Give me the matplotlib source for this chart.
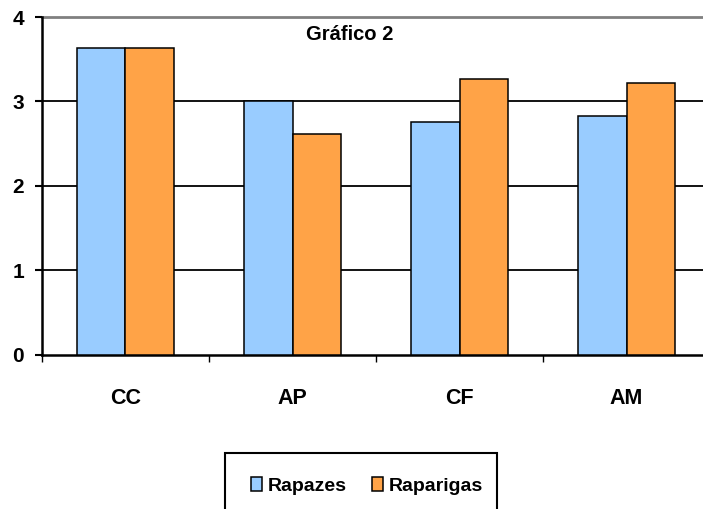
import matplotlib.pyplot as plt
import numpy as np
from matplotlib.patches import Rectangle

categories = ['CC', 'AP', 'CF', 'AM']
rapazes = [3.63, 3.0, 2.76, 2.83]
raparigas = [3.63, 2.62, 3.27, 3.22]
yticks = [0, 1, 2, 3, 4]

plt.rcParams['font.family'] = ['Liberation Sans Narrow', 'Liberation Sans', 'DejaVu Sans']

fig = plt.figure(figsize=(7.03, 5.09), dpi=100)
ax = fig.add_axes([0.0597, 0.3026, 0.9505, 0.664])

x = np.arange(len(categories))
w = 0.29
ax.bar(x - w / 2, rapazes, w, color='#99CCFF', edgecolor='black', linewidth=1.1,
       label='Rapazes', zorder=3)
ax.bar(x + w / 2, raparigas, w, color='#FFA347', edgecolor='black', linewidth=1.1,
       label='Raparigas', zorder=3)

ax.set_xlim(-0.5, len(categories) - 0.5)
ax.set_ylim(0, 4)
ax.set_yticks(yticks)
ax.set_yticklabels([str(v) for v in yticks], fontsize=15, fontweight='bold')
ax.set_xticks(x)
ax.set_xticklabels(categories, fontsize=15.5, fontweight='bold')
ax.tick_params(axis='x', length=0, pad=24)
ax.set_xticks(np.arange(-0.5, len(categories)), minor=True)
ax.tick_params(axis='x', which='minor', length=5, width=1, direction='out')
ax.tick_params(axis='y', length=5, width=1.5, direction='out', pad=8)

# horizontal gridlines
for v in yticks[1:-1]:
    ax.axhline(v, color='black', linewidth=1.3, zorder=1)
ax.axhline(4, color='#808080', linewidth=2, zorder=1, clip_on=False)

for side in ['top', 'right']:
    ax.spines[side].set_visible(False)
ax.spines['left'].set_linewidth(1.8)
ax.spines['bottom'].set_linewidth(1.8)

fig.text(350 / 703, 1 - 35 / 509, 'Gráfico 2', ha='center', va='center',
         fontsize=14.5, fontweight='bold')

# legend box at the bottom
fig.patches.append(Rectangle((225 / 703, -0.05), 272 / 703, 0.05 + (509 - 453) / 509,
                             transform=fig.transFigure, fill=False,
                             edgecolor='black', linewidth=1.5))
fig.legend(loc='center', bbox_to_anchor=(367 / 703, 1 - 486 / 509), ncol=2,
           frameon=False, prop={'size': 14, 'weight': 'bold'},
           handlelength=0.55, handleheight=0.75, handletextpad=0.3, columnspacing=1.3)

fig.savefig('out.png', dpi=100)
